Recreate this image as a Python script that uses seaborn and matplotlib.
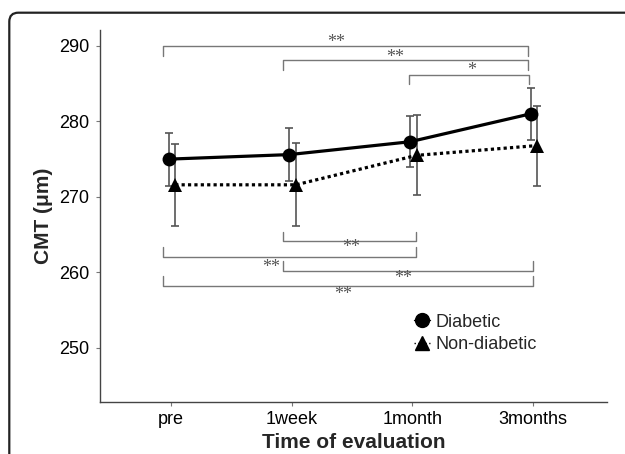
import matplotlib
matplotlib.use("Agg")
import matplotlib.pyplot as plt
import numpy as np
import pandas as pd
import seaborn as sns
from matplotlib.lines import Line2D
from matplotlib.patches import FancyBboxPatch

# data
times = ["pre", "1week", "1month", "3months"]
diabetic_mean = [275.0, 275.6, 277.3, 281.0]
diabetic_sd = [3.5, 3.5, 3.4, 3.4]
nondiabetic_mean = [271.6, 271.6, 275.5, 276.8]
nondiabetic_sd = [5.4, 5.5, 5.3, 5.3]

# significance brackets: (x_start, x_end, y_level, direction)
bracket_spans = [
    (-0.07, 2.96, 290.0, -1),
    (0.93, 2.96, 288.1, -1),
    (1.97, 2.97, 286.2, -1),
    (0.93, 2.03, 264.1, 1),
    (-0.07, 2.03, 262.1, 1),
    (0.93, 3.00, 260.2, 1),
    (-0.07, 3.00, 258.2, 1),
]
star_labels = ["**", "**", "*", "**", "**", "**", "**"]
star_x = [1.37, 1.86, 2.49, 1.49, 0.83, 1.92, 1.43]
star_y = [290.5, 288.5, 286.8, 263.25, 260.7, 259.2, 257.1]

groups = ["Diabetic", "Non-diabetic"]
dodge = {"Diabetic": -0.02, "Non-diabetic": 0.035}

df = pd.DataFrame({
    "time": times * 2,
    "group": ["Diabetic"] * 4 + ["Non-diabetic"] * 4,
    "CMT": diabetic_mean + nondiabetic_mean,
    "sd": diabetic_sd + nondiabetic_sd,
})
df["pos"] = [times.index(t) + dodge[g] for t, g in zip(df["time"], df["group"])]

sns.set_theme(style="white")
plt.rcParams["font.family"] = ["Liberation Sans", "DejaVu Sans"]

fig = plt.figure(figsize=(6.25, 4.54), dpi=100)
ax = fig.add_axes([0.1606, 0.1139, 0.81, 0.82])

grey = "#555555"
for g in groups:
    sub = df[df["group"] == g]
    ax.errorbar(sub["pos"], sub["CMT"], yerr=sub["sd"], fmt="none",
                ecolor=grey, elinewidth=1.2, capsize=3, capthick=1.2, zorder=2)

sns.lineplot(
    data=df, x="pos", y="CMT", hue="group", style="group",
    palette=["black", "black"],
    markers={"Diabetic": "o", "Non-diabetic": "^"},
    dashes={"Diabetic": "", "Non-diabetic": (1, 1)},
    markersize=10, linewidth=2.3, markeredgewidth=0,
    legend=False, ax=ax, zorder=3,
)
for line in ax.lines:
    line.set_zorder(3)

# brackets
tick_h = 1.3
for (x0, x1, y, d), lab, sx, sy in zip(bracket_spans, star_labels, star_x, star_y):
    ax.plot([x0, x0, x1, x1], [y + d * tick_h, y, y, y + d * tick_h],
            color="#777777", lw=1.0, zorder=1)
    ax.text(sx, sy, lab, ha="center", va="center", fontsize=13,
            family="Liberation Serif", color="#555555")

ax.set_xlim(-0.585, 3.61)
ax.set_ylim(242.8, 292.1)
ax.set_xticks(range(len(times)))
ax.set_xticklabels(times)
ax.set_yticks([250, 260, 270, 280, 290])
ax.tick_params(axis="both", labelsize=13, colors="black", length=3,
               width=0.8, direction="out", bottom=True, left=True)
ax.tick_params(axis="both", color="#777777")
ax.tick_params(axis="y", pad=5)
ax.tick_params(axis="x", pad=3)
for s in ["top", "right"]:
    ax.spines[s].set_visible(False)
for s in ["left", "bottom"]:
    ax.spines[s].set_color("#444444")
    ax.spines[s].set_linewidth(1.0)

ax.set_xlabel("Time of evaluation", fontsize=15, fontweight="bold", labelpad=4)
ax.set_ylabel("CMT (\u03bcm)", fontsize=15, fontweight="bold", labelpad=4)

handles = [
    Line2D([0], [0], color="black", lw=1, marker="o", markersize=10),
    Line2D([0], [0], color="black", lw=1, ls=":", marker="^", markersize=10),
]
ax.legend(handles, groups, loc="upper left", bbox_to_anchor=(0.602, 0.262),
          frameon=False, fontsize=13, handlelength=0.9, handletextpad=0.3,
          labelspacing=0.3, borderpad=0)

# rounded frame around the panel, partly cropped
frame = FancyBboxPatch((0.093, -0.5), 7.0, 4.413 + 0.5,
                       boxstyle="round,pad=0,rounding_size=0.09",
                       transform=fig.dpi_scale_trans, fill=False,
                       edgecolor="#222222", lw=1.6)
fig.patches.append(frame)

fig.savefig("out.png", dpi=100)
